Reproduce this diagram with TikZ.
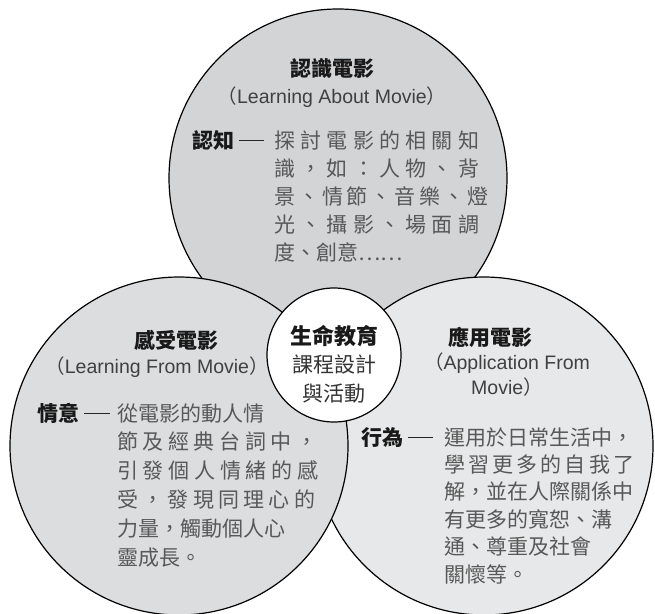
\documentclass[tikz,border=0pt]{standalone}
\usepackage{fontspec}
\setmainfont{Noto Sans CJK TC}
\newfontfamily\latin{Liberation Sans}
\usepackage{tikz}
\definecolor{topgray}{HTML}{D3D4D6}
\definecolor{leftgray}{HTML}{DCDDDF}
\definecolor{rightgray}{HTML}{E7E8E9}
\definecolor{txtgray}{HTML}{585858}
\tikzset{C/.style={circle, draw=black, line width=1.2pt, minimum size=338pt, inner sep=0pt}}
\tikzset{H/.style={anchor=base, inner sep=0pt, font=\fontsize{21}{28}\selectfont\bfseries, text=black!90}}
\tikzset{S/.style={anchor=base, inner sep=0pt, align=center, font=\fontsize{19.5}{25}\selectfont, text=black!75}}
\tikzset{L/.style={anchor=base west, inner sep=0pt, font=\fontsize{21}{28}\selectfont\bfseries, text=black!90}}
\tikzset{X/.style={anchor=base west, inner sep=0pt, align=left, text=txtgray}}
\tikzset{D/.style={line width=0.8pt, black!85}}
\newcommand{\jl}[2]{\makebox[#1pt][s]{#2}}
\newcommand{\en}[1]{{\latin #1}}

\begin{document}
\begin{tikzpicture}[x=1pt, y=-1pt]
    \useasboundingbox (0,0) rectangle (655,613);
    \node[C, fill=topgray] (know) at (338,178) {};
    \node[C, fill=rightgray] (act) at (484,446) {};
    \node[C, fill=leftgray] (feel) at (179,446) {};
    \node[C, fill=white, minimum size=134pt] (core) at (334,355) {};

    \node[H] (knowhd) at (332,76) {認識電影};
    \node[S] (knowsub) at (332,103) {（\en{Learning About Movie}）};
    \node[L] (cog) at (192,148) {認知};
    \node[X, font=\fontsize{21}{28}\selectfont] (cogtxt) at (274,260) {
        \jl{205}{探 討 電 影 的 相 關 知}\\
        \jl{205}{識 ， 如 ： 人 物 、 背}\\
        \jl{207}{景 、 情 節 、 音 樂 、 燈}\\
        \jl{205}{光 、 攝 影 、 場 面 調}\\
        度、創意……};
    \draw[D] ([xshift=5pt]cog.east) -- ([xshift=-10pt]cog.east -| cogtxt.west);

    \node[H] (feelhd) at (176,348) {感受電影};
    \node[S] (feelsub) at (157,373) {（\en{Learning From Movie}）};
    \node[L] (aff) at (37,421) {情意};
    \node[X, font=\fontsize{21}{28.8}\selectfont] (afftxt) at (117,565) {
        從電影的動人情\\
        \jl{200}{節 及 經 典 台 詞 中 ，}\\
        \jl{201}{引 發 個 人 情 緒 的 感}\\
        \jl{198}{受 ， 發 現 同 理 心 的}\\
        力量，觸動個人心\\
        靈成長。};
    \draw[D] ([xshift=5pt]aff.east) -- ([xshift=-7pt]aff.east -| afftxt.west);

    \node[H] (acthd) at (490,345) {應用電影};
    \node[S] (actsub) at (507,394) {（\en{Application From}\\\en{Movie}）};
    \node[L] (beh) at (361,445) {行為};
    \node[X, font=\fontsize{21}{27.4}\selectfont] (behtxt) at (444,582) {
        運用於日常生活中，\\
        \jl{190}{學 習 更 多 的 自 我 了}\\
        解，並在人際關係中\\
        有更多的寬恕、溝\\
        通、尊重及社會\\
        關懷等。};
    \draw[D] ([xshift=5pt]beh.east) -- ([xshift=-11pt]beh.east -| behtxt.west);

    \node[anchor=base, inner sep=0pt, align=center, text=black!80, font=\fontsize{21}{28.5}\selectfont] (coretxt) at (334,401) {
        {\fontsize{22}{28.5}\selectfont\bfseries\color{black!90}生命教育}\\
        課程設計\\
        與活動};
\end{tikzpicture}
\end{document}
